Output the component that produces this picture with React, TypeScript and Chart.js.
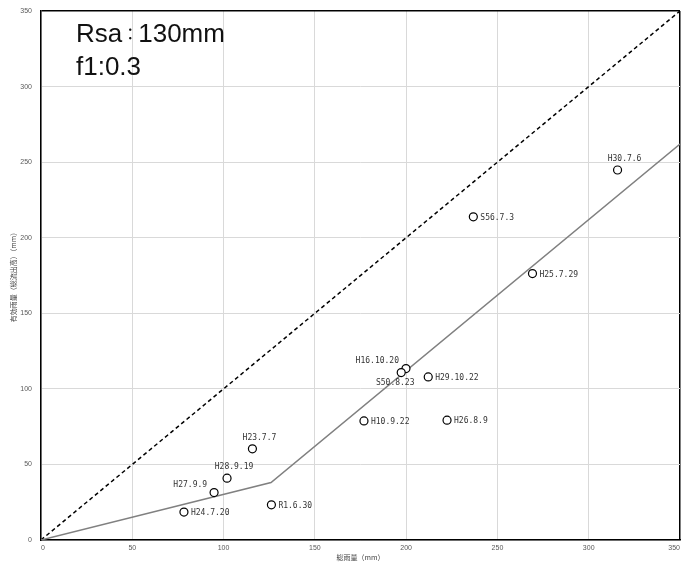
import React, { useEffect, useRef } from "react";
import { Chart, registerables } from "chart.js";

Chart.register(...registerables);

const eventNames = ["H30.7.6", "S56.7.3", "H25.7.29", "H16.10.20", "S50.8.23", "H29.10.22", "H10.9.22", "H26.8.9", "H23.7.7", "H28.9.19", "H27.9.9", "H24.7.20", "R1.6.30"];
const totalRain = [315.8, 236.8, 269.2, 199.9, 197.3, 212.1, 176.9, 222.4, 115.8, 101.9, 94.8, 78.3, 126.2];
const effectiveRain = [244.8, 213.8, 176.3, 113.4, 110.8, 107.9, 78.8, 79.3, 60.3, 40.9, 31.4, 18.5, 23.3];
const labelSide = ["top", "right", "right", "upleft", "bottom", "right", "right", "right", "top", "top", "upleft", "right", "right"];

const modelX = [0, 126, 350];
const modelY = [0, 38, 262];
const equalX = [0, 350];
const equalY = [0, 350];

const axisTicks = [0, 50, 100, 150, 200, 250, 300, 350];
const annotationLines = ["Rsa：130mm", "f1:0.3"];
const xTitle = "総雨量（mm）";
const yTitle = "有効雨量（総流出高）（mm）";

const bigFont = '26px "Liberation Sans", Arial, sans-serif';
const wideCharFont = '16px "Noto Sans CJK JP", sans-serif';

const labelPlugin = {
  id: "pointLabels",
  afterDatasetsDraw(chart: any) {
    const ctx = chart.ctx;
    const meta = chart.getDatasetMeta(2);
    ctx.save();
    ctx.font = '8px "DejaVu Sans Mono", monospace';
    ctx.fillStyle = "#333333";
    meta.data.forEach((pt: any, i: number) => {
      const side = labelSide[i];
      const name = eventNames[i];
      let x = pt.x;
      let y = pt.y;
      if (side === "top") {
        ctx.textAlign = "center";
        ctx.textBaseline = "bottom";
        x += 7;
        y -= 7;
      } else if (side === "right") {
        ctx.textAlign = "left";
        ctx.textBaseline = "middle";
        x += 7;
        y += 1;
      } else if (side === "upleft") {
        ctx.textAlign = "right";
        ctx.textBaseline = "middle";
        x -= 7;
        y -= 8;
      } else {
        ctx.textAlign = "center";
        ctx.textBaseline = "middle";
        x -= 6;
        y += 10;
      }
      ctx.fillText(name, x, y);
    });
    const area = chart.chartArea;
    ctx.fillStyle = "#111111";
    ctx.textAlign = "left";
    ctx.textBaseline = "alphabetic";
    annotationLines.forEach((t, i) => {
      let x = area.left + 35;
      const y = area.top + 31 + i * 33;
      for (const ch of t) {
        const wide = ch.charCodeAt(0) >= 0xff00;
        ctx.font = wide ? wideCharFont : bigFont;
        ctx.fillText(ch, x, wide ? y - 2 : y);
        x += ctx.measureText(ch).width;
      }
    });
    ctx.restore();
  },
};

export default function App() {
  const ref = useRef<HTMLCanvasElement | null>(null);
  useEffect(() => {
    if (!ref.current) return;
    const gridColor = (c: any) => (c.tick && c.tick.value === 350 ? "#000000" : "#d9d9d9");
    const gridWidth = (c: any) => (c.tick && c.tick.value === 350 ? 1.5 : 1);
    const tickFont = { family: '"Liberation Sans", Arial, sans-serif', size: 7 };
    const titleFont = { family: '"Noto Sans CJK JP", sans-serif', size: 7 };
    const chart = new Chart(ref.current, {
      type: "scatter",
      data: {
        datasets: [
          {
            label: "equal",
            data: equalX.map((x, i) => ({ x, y: equalY[i] })),
            showLine: true,
            borderColor: "#000000",
            borderWidth: 1.5,
            borderDash: [4, 3],
            pointRadius: 0,
            order: 3,
          },
          {
            label: "model",
            data: modelX.map((x, i) => ({ x, y: modelY[i] })),
            showLine: true,
            borderColor: "#808080",
            borderWidth: 1.5,
            pointRadius: 0,
            order: 2,
          },
          {
            label: "observed",
            data: totalRain.map((x, i) => ({ x, y: effectiveRain[i] })),
            showLine: false,
            pointRadius: 4,
            pointBackgroundColor: "#ffffff",
            pointBorderColor: "#000000",
            pointBorderWidth: 1.2,
            order: 1,
          },
        ],
      },
      options: {
        animation: false,
        responsive: false,
        layout: { autoPadding: false, padding: { top: 11, right: 2, left: 0, bottom: 0 } },
        plugins: { legend: { display: false }, tooltip: { enabled: false } },
        scales: {
          x: {
            type: "linear",
            min: 0,
            max: 350,
            afterBuildTicks: (s: any) => {
              s.ticks = axisTicks.map((v) => ({ value: v }));
            },
            afterFit: (s: any) => {
              s.height = 23;
              s.paddingLeft = 0;
              s.paddingRight = 0;
            },
            grid: { color: gridColor, lineWidth: gridWidth, drawTicks: false },
            border: { color: "#000000", width: 1.5 },
            ticks: { font: tickFont, color: "#595959", padding: 4, maxRotation: 0, align: "inner" },
            title: { display: true, text: xTitle, font: titleFont, color: "#404040", padding: { top: 0, bottom: 1 } },
          },
          y: {
            type: "linear",
            min: 0,
            max: 350,
            afterBuildTicks: (s: any) => {
              s.ticks = axisTicks.map((v) => ({ value: v }));
            },
            afterFit: (s: any) => {
              s.width = 41;
              s.paddingTop = 0;
              s.paddingBottom = 0;
            },
            grid: { color: gridColor, lineWidth: gridWidth, drawTicks: false },
            border: { color: "#000000", width: 1.5 },
            ticks: { font: tickFont, color: "#595959", padding: 9 },
            title: { display: true, text: yTitle, font: titleFont, color: "#404040", padding: { top: 9, bottom: 0 } },
          },
        },
      },
      plugins: [labelPlugin],
    } as any);
    return () => chart.destroy();
  }, []);
  return (
    <div style={{ position: "fixed", left: 0, top: 0, width: 682, height: 563, background: "#ffffff" }}>
      <canvas ref={ref} width={682} height={563} style={{ display: "block" }} />
    </div>
  );
}
